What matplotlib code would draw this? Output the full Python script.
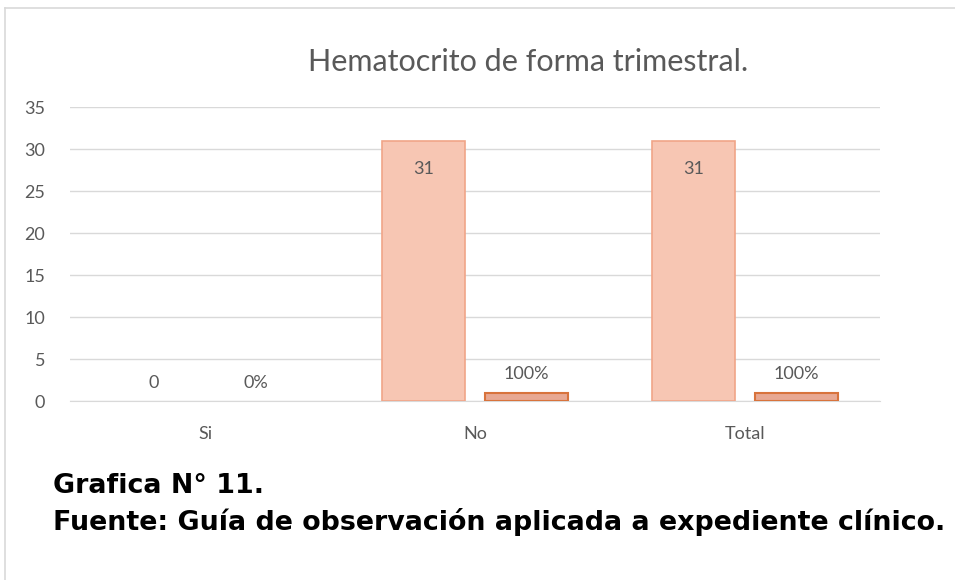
import numpy as np
import matplotlib.pyplot as plt
from matplotlib.lines import Line2D

categories = ["Si", "No", "Total"]
counts = [0, 31, 31]
shares = [0, 1, 1]          # fraction, shown as percent
share_labels = ["0%", "100%", "100%"]

yticks = [0, 5, 10, 15, 20, 25, 30, 35]
title = "Hematocrito de forma trimestral."
caption1 = "Grafica N° 11."
caption2 = "Fuente: Guía de observación aplicada a expediente clínico."

plt.rcParams['font.family'] = ['Lato', 'DejaVu Sans']

fig = plt.figure(figsize=(9.55, 5.8), dpi=100)
ax = fig.add_axes([70 / 955, 1 - 401 / 580, 810 / 955, 294 / 580])

x = np.arange(len(categories))
w = 0.307
off = 0.19
gray = "#595959"

# zero-height bars get no outline (Excel shows nothing there)
lw1 = [1.2 if v > 0 else 0 for v in counts]
lw2 = [1.5 if v > 0 else 0 for v in shares]
b1 = ax.bar(x - off, counts, w, color="#F7C6B3", edgecolor="#F0A588", linewidth=lw1, zorder=3)
b2 = ax.bar(x + off, shares, w, color="#E8A892", edgecolor="#D8733C", linewidth=lw2, zorder=3)

for xi, v in zip(x, counts):
    if v > 0:
        ax.text(xi - off, v - 3.4, str(v), ha="center", va="center", fontsize=13, color=gray, zorder=4)
    else:
        ax.text(xi - off, v + 2.2, str(v), ha="center", va="center", fontsize=13, color=gray, zorder=4)
for xi, v, lab in zip(x, shares, share_labels):
    ax.text(xi + off, v + 2.2, lab, ha="center", va="center", fontsize=13, color=gray, zorder=4)

ax.set_xlim(-0.5, 2.5)
ax.set_ylim(0, 35)
ax.set_yticks(yticks)
ax.set_xticks(x)
ax.set_xticklabels(categories)
ax.grid(axis="y", color="#D9D9D9", linewidth=1.0, zorder=0)
ax.tick_params(axis="both", length=0, labelsize=13, labelcolor=gray)
ax.tick_params(axis="y", pad=18)
ax.tick_params(axis="x", pad=18)
for s in ["top", "right", "left"]:
    ax.spines[s].set_visible(False)
ax.spines["bottom"].set_color("#D9D9D9")

fig.text(528 / 955, 0.893, title, ha="center", va="center", fontsize=22, color=gray)
fig.text(53 / 955, 1 - 486 / 580, caption1, ha="left", va="center", fontsize=19.4,
         fontweight="bold", family="DejaVu Sans", color="black")
fig.text(53 / 955, 1 - 522 / 580, caption2, ha="left", va="center", fontsize=19.4,
         fontweight="bold", family="DejaVu Sans", color="black")

# chart border (top and left lines)
fig.add_artist(Line2D([0.005, 1.0], [0.986, 0.986], color="#D9D9D9", linewidth=1.2))
fig.add_artist(Line2D([0.005, 0.005], [0.0, 0.986], color="#D9D9D9", linewidth=1.2))

fig.savefig("out.png", dpi=100)
